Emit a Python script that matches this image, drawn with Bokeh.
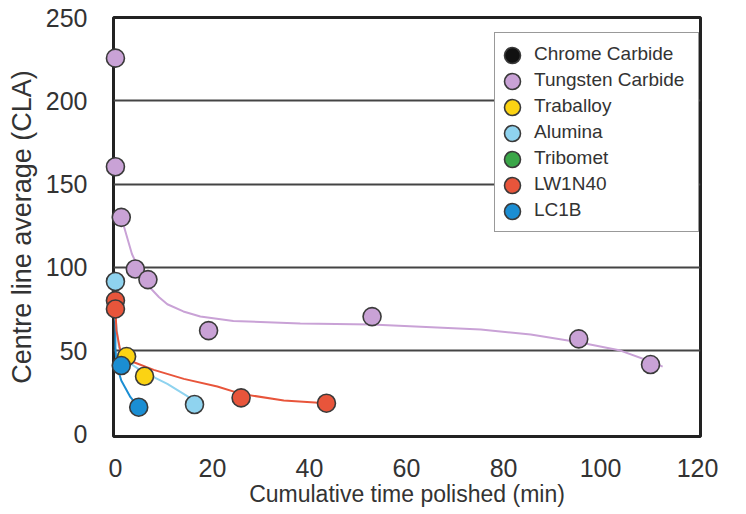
from bokeh.plotting import figure
from bokeh.models import ColumnDataSource, Legend, LegendItem, FixedTicker, Range1d
from bokeh.embed import file_html
from bokeh.resources import INLINE

NaN = float("nan")

# ---- data ----
x_ticks = [0, 20, 40, 60, 80, 100, 120]
y_ticks = [0, 50, 100, 150, 200, 250]
y_grid_ticks = [50, 100, 150, 200]

names = ["Chrome Carbide", "Tungsten Carbide", "Traballoy", "Alumina",
         "Tribomet", "LW1N40", "LC1B"]
colors = ["#111111", "#c9a2d6", "#fbd313", "#8fd3ef", "#3aa648", "#e8553b", "#1b8ed3"]

# no measured points shown for these two (legend only)
chrome_x, chrome_y = [NaN], [NaN]
tribomet_x, tribomet_y = [NaN], [NaN]
tungsten_x = [0, 0, 1.2, 4.1, 6.7, 19.2, 52.9, 95.5, 110.3]
tungsten_y = [225.6, 160.4, 130, 99, 92.6, 62, 70.4, 57, 41.6]
traballoy_x = [2.3, 6.0]
traballoy_y = [46.4, 34.6]
alumina_x = [0, 16.3]
alumina_y = [91.5, 17.6]
lw_x = [0, 0, 25.9, 43.5]
lw_y = [80, 75, 21.6, 18.4]
lc_x = [1.2, 4.8]
lc_y = [41, 16]

# fitted trend curves
tungsten_fit_x = [1.2, 3.4, 5.2, 7.2, 9.0, 10.7, 14, 17.5, 24.3, 38.1, 52.8, 75.3, 85.6, 95.5, 104.1, 110.3, 112.8]
tungsten_fit_y = [130, 108, 96.8, 87.6, 82, 77.8, 73.5, 70.5, 67.8, 66.2, 65.6, 62.6, 59.6, 55, 50, 43.4, 40.4]
lw_fit_x = [0, 0.2, 1.0, 3.8, 7.9, 14.1, 21, 25.9, 34.7, 43.5]
lw_fit_y = [75, 62, 50, 43, 38.4, 33, 28.4, 24, 20, 18.4]
alumina_fit_x = [0, 0, 0.7, 3.1, 5.8, 10.7, 16.3]
alumina_fit_y = [88, 70, 52, 42.2, 37, 30, 20]
lc_fit_x = [0, 0, 0.2, 1.2, 3.1, 4.8]
lc_fit_y = [72, 52, 42, 32, 22, 16]

FONT = "Liberation Sans"
TXT = "#333333"

p = figure(width=746, height=514, output_backend="svg", toolbar_location=None,
           x_range=Range1d(-0.4, 120.6), y_range=Range1d(-1.6, 250),
           min_border_left=113, min_border_right=46, min_border_top=17,
           min_border_bottom=78)
p.background_fill_color = "white"
p.border_fill_color = "white"
p.outline_line_color = "#222222"
p.outline_line_width = 3

p.xgrid.visible = False
p.ygrid.ticker = FixedTicker(ticks=y_grid_ticks)
p.ygrid.grid_line_color = "#444444"
p.ygrid.grid_line_width = 2

for ax in (p.xaxis, p.yaxis):
    ax.axis_line_color = None
    ax.major_tick_line_color = None
    ax.minor_tick_line_color = None
    ax.major_label_text_font = FONT
    ax.major_label_text_font_size = "25px"
    ax.major_label_text_color = TXT
    ax.axis_label_text_font = FONT
    ax.axis_label_text_color = TXT
    ax.axis_label_text_font_style = "normal"
p.xaxis.axis_label_text_font_size = "23px"
p.yaxis.axis_label_text_font_size = "27px"
p.xaxis.ticker = FixedTicker(ticks=x_ticks)
p.yaxis.ticker = FixedTicker(ticks=y_ticks)
p.xaxis.major_label_standoff = 16
p.yaxis.major_label_standoff = 20
p.xaxis.axis_label_standoff = 1
p.yaxis.axis_label_standoff = 6
p.xaxis.axis_label = "Cumulative time polished (min)"
p.yaxis.axis_label = "Centre line average (CLA)"

# trend lines
p.line(tungsten_fit_x, tungsten_fit_y, line_color="#c9a2d6", line_width=2)
p.line(lc_fit_x, lc_fit_y, line_color="#1b8ed3", line_width=2)
p.line(alumina_fit_x, alumina_fit_y, line_color="#8fd3ef", line_width=2)
p.line(lw_fit_x, lw_fit_y, line_color="#e8553b", line_width=2)

xs = [chrome_x, tungsten_x, traballoy_x, alumina_x, tribomet_x, lw_x, lc_x]
ys = [chrome_y, tungsten_y, traballoy_y, alumina_y, tribomet_y, lw_y, lc_y]
renderers = []
for c, x, y in zip(colors, xs, ys):
    src = ColumnDataSource(dict(x=x, y=y))
    r = p.scatter("x", "y", source=src, size=18, fill_color=c,
                  line_color="#3a3a3a", line_width=1.6, level="overlay")
    renderers.append(r)

# main legend box with labels
legend = Legend(items=[LegendItem(label=n, renderers=[r]) for n, r in zip(names, renderers)],
                location=(381, 204))
legend.label_text_font = FONT
legend.label_text_font_size = "19px"
legend.label_text_color = TXT
legend.margin = 0
legend.spacing = 0
legend.glyph_height = 26
legend.glyph_width = 22
legend.label_height = 26
legend.padding = (7, 14, 8, 8)
legend.label_standoff = 10
legend.border_line_color = "#333333"
legend.border_line_width = 1.5
legend.background_fill_color = "white"
legend.background_fill_alpha = 1
p.add_layout(legend, "center")

# larger legend markers drawn over the small ones (one per entry)
ITEM_PITCH = 26
for i, r in enumerate(renderers):
    lg = Legend(items=[LegendItem(label=" ", renderers=[r])],
                location=(379, 361 - ITEM_PITCH * i))
    lg.margin = 0
    lg.padding = 0
    lg.spacing = 0
    lg.glyph_height = 40
    lg.glyph_width = 40
    lg.label_height = 40
    lg.label_standoff = 0
    lg.label_text_alpha = 0
    lg.label_text_font_size = "4px"
    lg.border_line_color = None
    lg.background_fill_alpha = 0
    lg.inactive_fill_alpha = 0
    p.add_layout(lg, "center")

open("out.html", "w").write(file_html(p, INLINE))
